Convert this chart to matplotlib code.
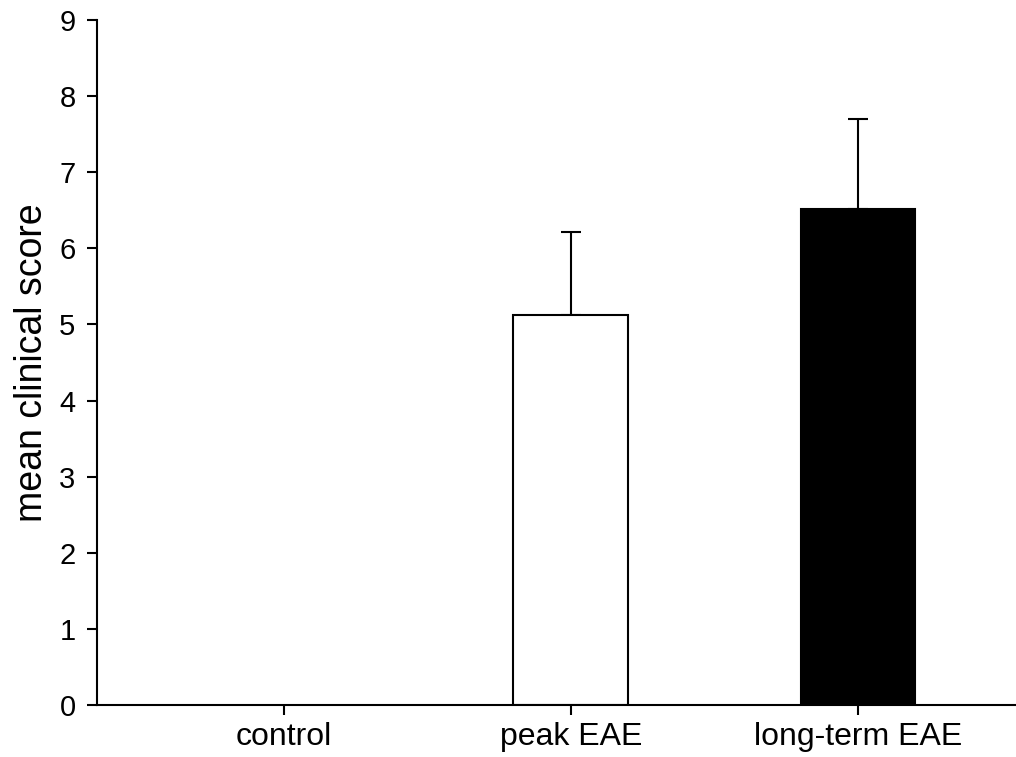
import matplotlib
matplotlib.use("Agg")
import matplotlib.pyplot as plt

plt.rcParams['font.family'] = ['Liberation Sans', 'DejaVu Sans']

groups = ["control", "peak EAE", "long-term EAE"]
means = [0.0, 5.12, 6.52]
errors = [0.0, 1.09, 1.18]
fills = ["white", "white", "black"]

fig = plt.figure(figsize=(10.16, 7.57), dpi=100)
ax = fig.add_axes([0.0955, 0.0687, 0.9045, 0.905])

x = range(len(groups))
for i in x:
    if means[i] > 0:
        ax.bar(i, means[i], width=0.4, color=fills[i], edgecolor="black", linewidth=1.5, zorder=2)
        ax.errorbar(i, means[i], yerr=[[0], [errors[i]]], fmt="none", ecolor="black",
                    elinewidth=1.5, capsize=7.5, capthick=1.5, zorder=1)

ax.set_xlim(-0.65, 2.55)
ax.set_ylim(0, 9)
ax.set_yticks(range(10))
ax.set_xticks(list(x))
ax.set_xticklabels(groups)
ax.set_ylabel("mean clinical score", fontsize=27, labelpad=7)

for side in ["top", "right"]:
    ax.spines[side].set_visible(False)
for side in ["left", "bottom"]:
    ax.spines[side].set_linewidth(1.5)
ax.tick_params(axis="both", direction="out", length=7.5, width=1.5)
ax.tick_params(axis="y", pad=8, labelsize=21)
ax.tick_params(axis="x", pad=5, labelsize=23)

fig.savefig("out.png", dpi=100)
